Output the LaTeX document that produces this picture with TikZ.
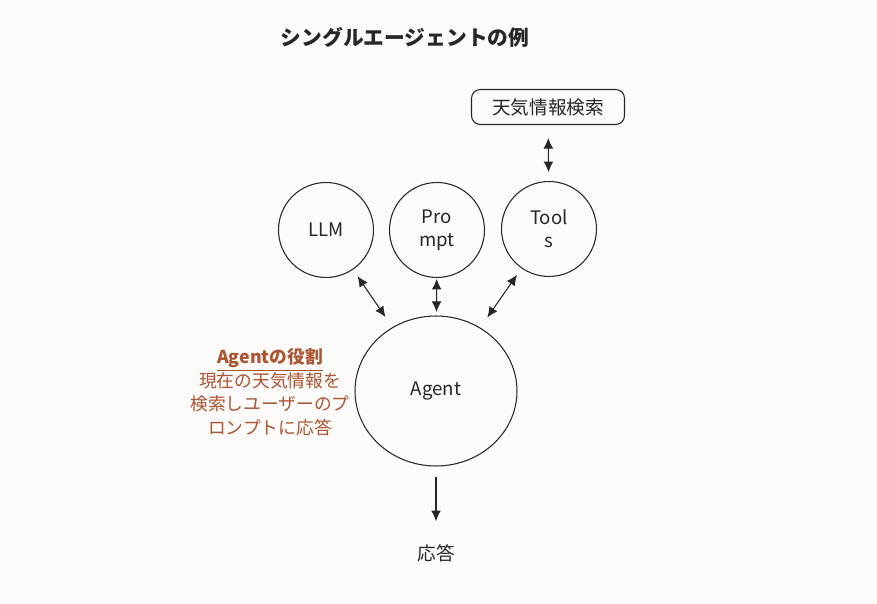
\documentclass[tikz,border=0pt]{standalone}
\usepackage{fontspec}
\setmainfont{Noto Sans CJK JP}
\usetikzlibrary{arrows.meta,shapes.geometric}
\definecolor{bgpaper}{RGB}{252,251,249}
\definecolor{rolebrown}{RGB}{170,84,50}
\definecolor{inkgray}{RGB}{38,38,38}
\begin{document}
\begin{tikzpicture}[x=0.02cm,y=-0.02cm,
  every node/.style={text=inkgray,font=\fontsize{10.6}{13}\selectfont},
  part/.style={draw=inkgray,line width=0.6pt,circle,minimum size=1.9cm,inner sep=0pt,align=center},
  link/.style={draw=inkgray,line width=0.6pt,{Latex[length=6pt,width=5.5pt]}-{Latex[length=6pt,width=5.5pt]}}]
\fill[bgpaper] (0,0) rectangle (877,604);
\node[font=\bfseries\fontsize{11.8}{14}\selectfont] (title) at (405,37) {シングルエージェントの例};
\node[draw=inkgray,line width=0.6pt,rounded corners=5pt,minimum width=3.06cm,minimum height=0.7cm] (search) at (548,107) {天気情報検索};
\node[part] (llm) at (326,230) {LLM};
\node[part] (prompt) at (437,230) {Pro\\mpt};
\node[part] (tools) at (549,229) {Tool\\s};
\node[draw=inkgray,line width=0.6pt,ellipse,minimum width=3.24cm,minimum height=3cm] (agent) at (436,391) {\raisebox{-1.5pt}{Agent}};
\node (reply) at (436,553) {応答};
\node[text=rolebrown,align=center,font=\fontsize{10.1}{13.4}\selectfont] (role) at (270,392)
  {\textbf{\underline{Agentの役割}}\\現在の天気情報を\\検索しユーザーのプ\\ロンプトに応答};
% connectors
\draw[link,shorten <=7.4pt,shorten >=5pt] (search) -- (tools);
\draw[link,shorten <=4.5pt,shorten >=7pt] (llm) -- (agent);
\draw[link,shorten <=0.5pt,shorten >=2pt] (prompt) -- (agent);
\draw[link,shorten <=4.5pt,shorten >=7pt] (tools) -- (agent);
\draw[draw=inkgray,line width=0.6pt,-{Latex[length=6pt,width=5.5pt]},shorten <=6.2pt,shorten >=9.6pt] (agent) -- (reply);
\end{tikzpicture}
\end{document}
